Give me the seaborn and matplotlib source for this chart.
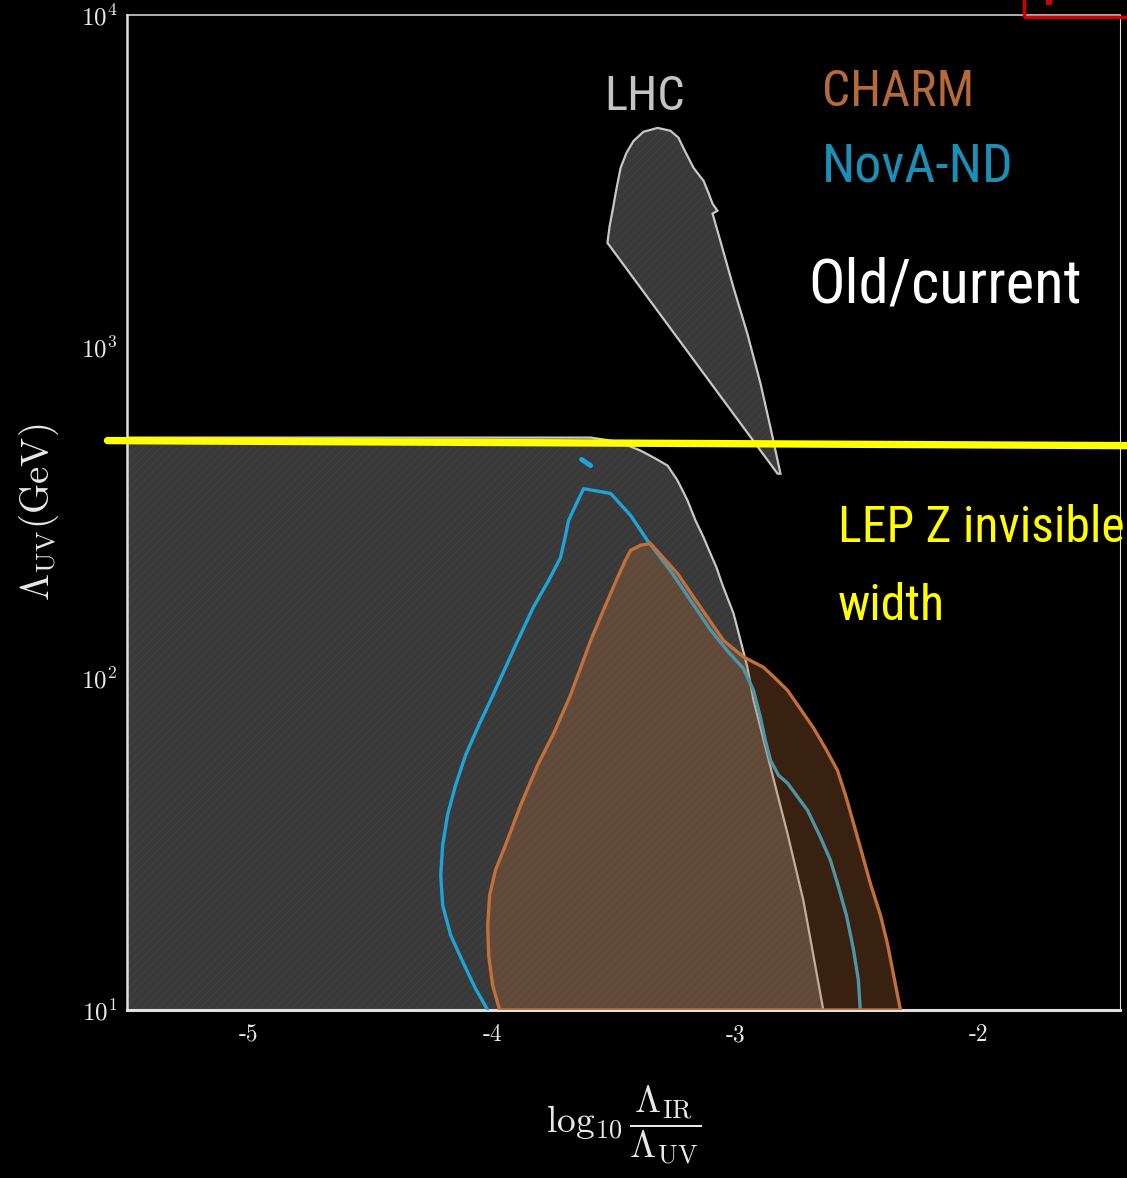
import matplotlib
matplotlib.use("Agg")
import numpy as np
import pandas as pd
import seaborn as sns
import matplotlib.pyplot as plt
from matplotlib.patches import Rectangle
from matplotlib import font_manager

# ---------------- data ----------------
# Old / current excluded region (upper boundary), x = log10(L_IR/L_UV), y = L_UV [GeV]
GRAY_X = [-5.50, -3.72, -3.595, -3.513, -3.452, -3.390, -3.329, -3.279, -3.238, -3.197,
          -3.164, -3.131, -3.103, -3.078, -3.053, -3.029, -3.008, -2.979, -2.951, -2.926,
          -2.856, -2.786, -2.721, -2.639]
GRAY_Y = [532, 532, 532, 521, 507, 486, 460, 438, 395, 344,
          299, 266, 238, 216, 191, 172, 157, 130, 108, 86,
          54, 34, 21.4, 10]

# LHC closed region
LHC_X = [-3.526, -3.517, -3.505, -3.489, -3.472, -3.448, -3.419, -3.378, -3.320, -3.267,
         -3.234, -3.214, -3.193, -3.172, -3.131, -3.111, -3.094, -3.074, -3.094, -3.062,
         -3.008, -2.951, -2.897, -2.856, -2.815, -2.827]
LHC_Y = [2056, 2312, 2570, 2992, 3459, 3838, 4169, 4446, 4567, 4477,
         4266, 3973, 3707, 3459, 3162, 2911, 2697, 2570, 2518, 2084,
         1507, 1094, 774, 570, 414, 414]

# NovA-ND contour
NOVA_X = [-4.018, -4.068, -4.121, -4.170, -4.203, -4.211, -4.203, -4.183, -4.150, -4.109,
          -4.055, -4.006, -3.965, -3.903, -3.830, -3.768, -3.719, -3.698, -3.686, -3.657,
          -3.624, -3.513, -3.431, -3.361, -3.267, -3.185, -3.103, -3.033, -2.967, -2.926,
          -2.897, -2.877, -2.856, -2.823, -2.786, -2.704, -2.651, -2.610, -2.581, -2.544,
          -2.515, -2.495, -2.487]
NOVA_Y = [10, 11.6, 14.0, 16.8, 20.7, 25.5, 31.4, 38.7, 47.6, 58.6,
          72.1, 85.9, 100, 126, 164, 197, 231, 270, 299, 332,
          373, 361, 310, 260, 211, 172, 140, 121, 107, 92,
          76, 65, 56.6, 51, 48.3, 40, 33.2, 28.3, 24.1, 19.3,
          15.2, 12.3, 10]
NOVA_ISLAND_X = [-3.632, -3.595]
NOVA_ISLAND_Y = [457, 438]

# CHARM closed region
CHARM_X = [-3.969, -3.998, -4.014, -4.018, -4.010, -3.986, -3.945, -3.883, -3.813, -3.747,
           -3.678, -3.595, -3.534, -3.485, -3.452, -3.431, -3.390, -3.349, -3.238, -3.144,
           -3.049, -2.967, -2.885, -2.836, -2.786, -2.680, -2.630, -2.581, -2.548, -2.515,
           -2.478, -2.446, -2.404, -2.376, -2.322]
CHARM_Y = [10, 11.9, 14.6, 18.0, 22.2, 26.4, 31.4, 41.4, 54.7, 68.2,
           88.9, 130, 166, 201, 227, 243, 252, 255, 207, 164,
           130, 116, 108, 100, 92, 71, 61.5, 52.8, 44.5, 36.6,
           29.3, 24.1, 19.3, 15.9, 10]

# LEP Z invisible width line
LEP_X = [-5.58, -1.39]
LEP_Y = [521, 503]

X_TICKS = [-5, -4.5, -4, -3.5, -3, -2.5, -2, -1.5]
X_TICK_LABELS = ["-5", "", "-4", "", "-3", "", "-2", ""]
Y_TICKS = [10, 100, 1000, 10000]
Y_TICK_LABELS = [r"$10^{1}$", r"$10^{2}$", r"$10^{3}$", r"$10^{4}$"]

# ---------------- styling ----------------
sns.set_theme(style="dark")
plt.rcParams.update({
    "figure.facecolor": "black",
    "axes.facecolor": "black",
    "savefig.facecolor": "black",
    "mathtext.fontset": "cm",
    "axes.formatter.use_mathtext": True,
    "hatch.linewidth": 0.5,
    "axes.grid": False,
})

# pick the narrowest available sans family for the slide annotations
_names = {f.name for f in font_manager.fontManager.ttflist}
NARROW = "DejaVu Sans"
for cand in ["Liberation Sans Narrow", "Arial Narrow", "Roboto Condensed",
             "Open Sans Condensed", "Noto Sans Condensed", "DejaVu Sans Condensed"]:
    if cand in _names:
        NARROW = cand
        break

W, H = 1127, 1178
fig = plt.figure(figsize=(W / 100, H / 100), dpi=100)
ax = fig.add_axes([127 / W, 1 - 1010 / H, (1120 - 127) / W, (1010 - 15) / H])
ax.set_facecolor("black")

GRAY_FILL = "#393939"
GRAY_EDGE = "#c8c8c8"
NOVA_C = "#1ea4d6"
CHARM_C = "#c0703c"

# old/current region
ax.fill_between(GRAY_X, 10, GRAY_Y, facecolor=GRAY_FILL, edgecolor="none", lw=0, zorder=1)
ax.fill_between(GRAY_X, 10, GRAY_Y, facecolor="none", edgecolor="#444444", hatch="////", lw=0, zorder=1.1)
sns.lineplot(x=GRAY_X, y=GRAY_Y, sort=False, estimator=None, color=GRAY_EDGE, lw=1.6, ax=ax, zorder=2)

# LHC region
ax.fill(LHC_X, LHC_Y, facecolor=GRAY_FILL, edgecolor="none", zorder=1)
ax.fill(LHC_X, LHC_Y, facecolor="none", edgecolor="#444444", hatch="////", lw=0, zorder=1.1)
ax.fill(LHC_X, LHC_Y, facecolor="none", edgecolor=GRAY_EDGE, lw=1.6, zorder=2)

# NovA-ND
sns.lineplot(x=NOVA_X, y=NOVA_Y, sort=False, estimator=None, color=NOVA_C, lw=2.4, ax=ax, zorder=3)
sns.lineplot(x=NOVA_ISLAND_X, y=NOVA_ISLAND_Y, sort=False, estimator=None, color=NOVA_C,
             lw=3.5, ax=ax, zorder=3, solid_capstyle="round")

# CHARM
ax.fill(CHARM_X, CHARM_Y, facecolor=CHARM_C, alpha=0.30, edgecolor="none", zorder=4)
ax.fill(CHARM_X, CHARM_Y, facecolor="none", edgecolor=CHARM_C, lw=2.4, zorder=5)

# LEP line
sns.lineplot(x=LEP_X, y=LEP_Y, sort=False, estimator=None, color="#ffff00", lw=5.3,
             ax=ax, zorder=6, clip_on=False)

ax.set_yscale("log")
ax.set_xlim(-5.5, -1.42)
ax.set_ylim(10, 1e4)

ax.set_xticks(X_TICKS)
ax.set_xticklabels(X_TICK_LABELS, fontfamily="cmr10", fontsize=17, color="#e8e8e8")
ax.set_yticks(Y_TICKS)
ax.set_yticklabels(Y_TICK_LABELS, fontsize=18, color="#e8e8e8")
ax.yaxis.set_minor_locator(matplotlib.ticker.LogLocator(base=10, subs=np.arange(2, 10)))
ax.yaxis.set_minor_formatter(matplotlib.ticker.NullFormatter())
ax.tick_params(axis="x", which="both", direction="in", length=6.5, width=1.0, color="#dddddd", pad=10)
ax.tick_params(axis="y", which="both", direction="in", length=6, width=1.0, color="#dddddd", pad=7)

for side, lw in [("left", 1.8), ("bottom", 2.2), ("top", 1.1), ("right", 0.8)]:
    ax.spines[side].set_visible(True)
    ax.spines[side].set_color("#e0e0e0")
    ax.spines[side].set_linewidth(lw)

ax.set_ylabel(r"$\Lambda_{\rm UV}(\rm GeV)$", fontsize=28, color="#e8e8e8")
ax.yaxis.set_label_coords(-0.066, 0.5)
ax.set_xlabel(r"$\log_{10}\dfrac{\Lambda_{\rm IR}}{\Lambda_{\rm UV}}$", fontsize=27, color="#e8e8e8")
ax.xaxis.set_label_coords(0.5, -0.074)

# annotations: sized to the reference's cap height, limited by the available width
renderer = fig.canvas.get_renderer()
def ftext(px, py, s, color, cap_px, width_px, max_right=1121, size=None):
    if size is None:
        size = cap_px / 0.73 * 0.72  # points at 100 dpi
    t = fig.text(px / W, 1 - py / H, s, color=color, fontsize=size, family=NARROW,
                 ha="left", va="baseline")
    w = t.get_window_extent(renderer).width
    limit = min(width_px * 1.12, max_right - px)
    if w > limit:
        t.set_fontsize(size * limit / w)
    return t

ftext(604, 110, "LHC", "#c4c4c4", 48, 72)
ftext(822, 106, "CHARM", "#b46a3c", 48, 136)
ftext(822, 182, "NovA-ND", "#1b8fb6", 49, 171)
ftext(808, 303, "Old/current", "white", 45, 244)
lep = ftext(838, 542, "LEP Z invisible", "#ffff00", 49, 280, max_right=1125)
ftext(838, 620, "width", "#ffff00", 47, 200, size=lep.get_fontsize())

# red frame fragment at the top right (slide overlay)
fig.patches.append(Rectangle((1023.5 / W, 1 - 17 / H), 200 / W, 60 / H, transform=fig.transFigure,
                             fill=False, edgecolor="#d00000", lw=2.5, zorder=10))
fig.patches.append(Rectangle((1046 / W, 1 - 5 / H), 6 / W, 5 / H, transform=fig.transFigure,
                             facecolor="#d00000", edgecolor="none", zorder=10))

fig.savefig("out.png", dpi=100, facecolor="black")
